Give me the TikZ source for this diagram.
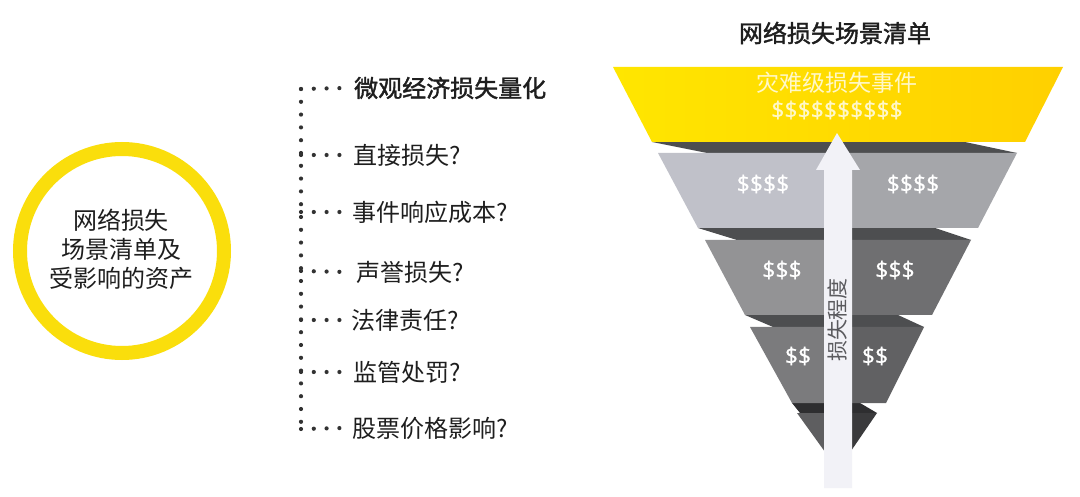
\documentclass[tikz,border=0pt]{standalone}
\usepackage{fontspec}
\setmainfont{Noto Sans CJK SC}
\newfontfamily\semib{Noto Sans CJK SC}[FakeBold=1.6]
\newfontfamily\moneyfont{Open Sans}[FakeBold=0.6]
\definecolor{ringY}{RGB}{250,222,12}
\definecolor{yL}{RGB}{255,230,0}
\definecolor{yR}{RGB}{255,208,0}
\definecolor{aL}{RGB}{192,193,201}
\definecolor{aR}{RGB}{165,166,170}
\definecolor{bL}{RGB}{147,147,149}
\definecolor{bR}{RGB}{111,111,113}
\definecolor{cL}{RGB}{123,123,125}
\definecolor{cR}{RGB}{97,97,99}
\definecolor{dL}{RGB}{94,94,96}
\definecolor{dR}{RGB}{58,58,60}
\definecolor{band}{RGB}{77,78,80}
\definecolor{bandD}{RGB}{46,46,48}
\definecolor{arrowW}{RGB}{242,242,247}
\definecolor{txt}{RGB}{30,30,30}
\definecolor{dotc}{RGB}{50,50,50}
\definecolor{ytxt}{RGB}{255,248,200}
\definecolor{degc}{RGB}{90,90,94}
\begin{document}
\begin{tikzpicture}[x=1pt,y=-1pt,
  item/.style={anchor=west,inner sep=0pt,font=\fontsize{24}{28}\selectfont,text=txt},
  dotline/.style={draw=dotc,line width=4.2pt,line cap=round,dash pattern=on 0pt off 12.8pt},
  money/.style={inner sep=0pt,text=white,font=\moneyfont\fontsize{23}{26}\selectfont},
]
\useasboundingbox (0,0) rectangle (1080,497);
\fill[white] (0,0) rectangle (1080,497);

% circle
\node[circle,draw=ringY,line width=14pt,minimum size=204pt,inner sep=0pt] (ring) at (122,251) {};
\node[align=center,inner sep=0pt,text=txt,font=\fontsize{24}{29}\selectfont] (ctext) at (121,249) {网络损失\\场景清单及\\受影响的资产};

% items
\node[item,font=\semib\fontsize{24}{28}\selectfont] (i1) at (354,88) {微观经济损失量化};
\node[item] (i2) at (353,155) {直接损失?};
\node[item] (i3) at (352,212) {事件响应成本?};
\node[item] (i4) at (356,272) {声誉损失?};
\node[item] (i5) at (351,320) {法律责任?};
\node[item] (i6) at (353,372) {监管处罚?};
\node[item] (i7) at (352,428) {股票价格影响?};

\foreach \k/\y in {1/89,2/155,3/212,4/271,5/320,6/372,7/429}{
  \coordinate (v\k) at (301,\y);
}
\draw[dotline] (v1) -- (v7);
\foreach \k in {1,...,7}{
  \draw[dotline] (v\k) -- ([xshift=-9pt]i\k.west);
}

% title
\node[inner sep=0pt,text=txt,font=\semib\fontsize{24}{28}\selectfont] (title) at (835,33) {网络损失场景清单};

% bands
\fill[band] (652,142) -- (965,142) -- (1017,153) -- (707,153) -- cycle;
\fill[band] (698,228) -- (935,228) -- (971,240) -- (737,240) -- cycle;
\fill[band] (745,315) -- (898,315) -- (924,327) -- (773,327) -- cycle;
\fill[bandD] (792,403) -- (860,403) -- (877,413) -- (800,413) -- cycle;

% layers
\shade[left color=yL,right color=yR] (613,67) -- (1063,67) -- (1025,142) -- (652,142) -- cycle;
\fill[aL] (658,153) -- (838,153) -- (838,228) -- (698,228) -- cycle;
\fill[aR] (838,153) -- (1017,153) -- (978,228) -- (838,228) -- cycle;
\fill[bL] (705,240) -- (838,240) -- (838,315) -- (745,315) -- cycle;
\fill[bR] (838,240) -- (971,240) -- (932,315) -- (838,315) -- cycle;
\fill[cL] (750,327) -- (838,327) -- (838,403) -- (792,403) -- cycle;
\fill[cR] (838,327) -- (924,327) -- (886,403) -- (838,403) -- cycle;
\fill[dL] (797,413) -- (838,413) -- (838,470) -- cycle;
\fill[dR] (838,413) -- (877,413) -- (838,470) -- cycle;

% arrow
\fill[arrowW] (824,488) -- (824,170) -- (816,170) -- (837,133) -- (860,170) -- (852,170) -- (852,488) -- cycle;
\node[rotate=90,inner sep=0pt,text=degc,font=\fontsize{21}{24}\selectfont] (deg) at (838,320) {损失程度};

% texts
\node[inner sep=0pt,text=ytxt,font=\fontsize{23}{26}\selectfont] (cat) at (837,83) {灾难级损失事件};
\node[money,text=ytxt] (m0) at (837,110) {\$\$\$\$\$\$\$\$\$\$};
\node[money] (m1l) at (763,184) {\$\$\$\$};
\node[money] (m1r) at (913,184) {\$\$\$\$};
\node[money] (m2l) at (782,270) {\$\$\$};
\node[money] (m2r) at (895,270) {\$\$\$};
\node[money] (m3l) at (798,356) {\$\$};
\node[money] (m3r) at (875,356) {\$\$};
\end{tikzpicture}
\end{document}
